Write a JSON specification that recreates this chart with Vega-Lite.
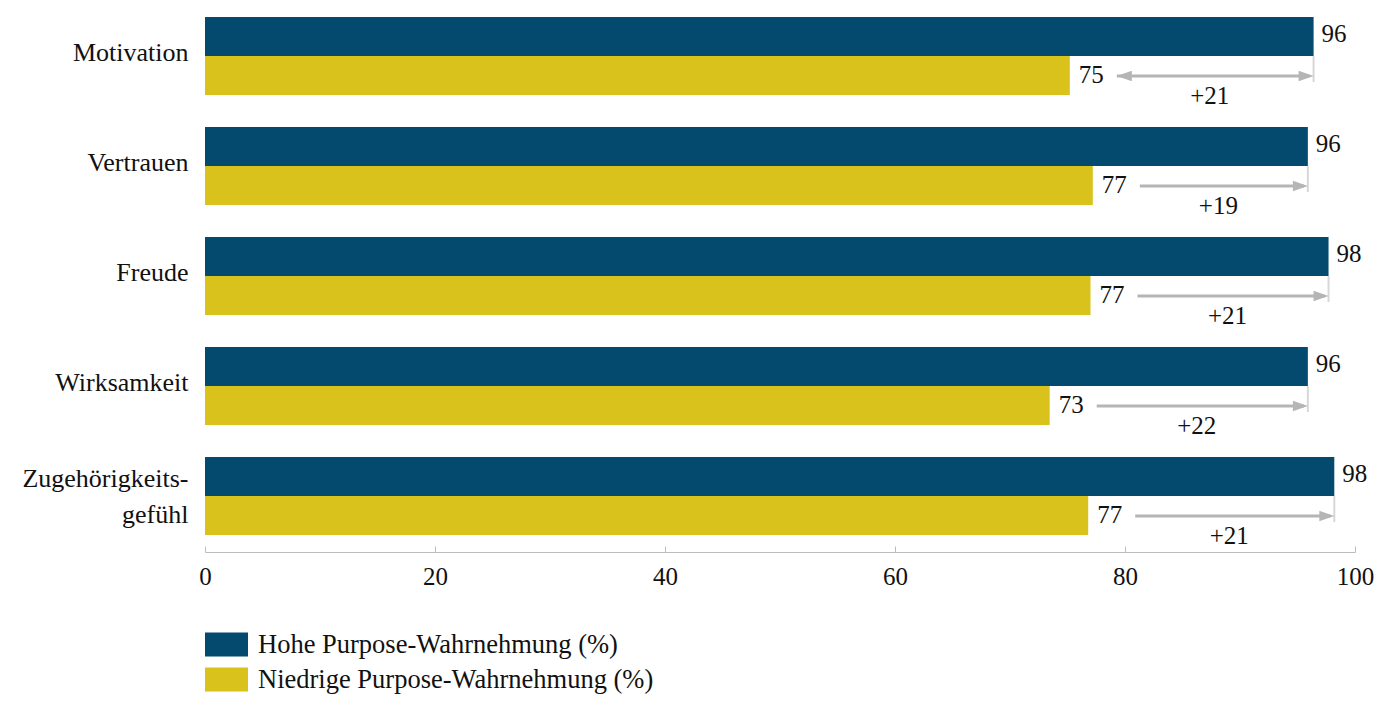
{
  "$schema": "https://vega.github.io/schema/vega-lite/v6.json",
  "width": 1150,
  "height": 546,
  "autosize": "none",
  "padding": {"left": 205, "top": 6, "right": 45, "bottom": 166},
  "config": {
    "font": "Liberation Serif",
    "view": {"stroke": null},
    "text": {"font": "Liberation Serif", "color": "#111111"}
  },
  "data": {
    "values": [
      {"category": "Motivation", "high": 96.4, "low": 75.2, "diff": 21},
      {"category": "Vertrauen", "high": 95.9, "low": 77.2, "diff": 19},
      {"category": "Freude", "high": 97.7, "low": 77.0, "diff": 21},
      {"category": "Wirksamkeit", "high": 95.9, "low": 73.45, "diff": 22},
      {"category": "Zugehörigkeitsgefühl", "high": 98.2, "low": 76.8, "diff": 21}
    ]
  },
  "encoding": {
    "y": {
      "field": "category",
      "type": "nominal",
      "sort": null,
      "scale": {"range": [11, 529], "paddingInner": 0.29, "paddingOuter": 0},
      "axis": {
        "title": null,
        "domain": false,
        "ticks": false,
        "labelPadding": 17,
        "labelFontSize": 26,
        "labelColor": "#111111",
        "labelFont": "Liberation Serif",
        "labelLineHeight": 36,
        "labelOffset": {"condition": {"test": "datum.value == 'Zugehörigkeitsgefühl'", "value": -17}, "value": -3},
        "labelExpr": "datum.label == 'Zugehörigkeitsgefühl' ? ['Zugehörigkeits-', 'gefühl'] : datum.label"
      }
    }
  },
  "layer": [
    {
      "transform": [{"fold": ["high", "low"], "as": ["series", "value"]}],
      "mark": {"type": "bar"},
      "encoding": {
        "x": {
          "field": "value",
          "type": "quantitative",
          "scale": {"domain": [0, 100], "nice": false},
          "axis": {
            "title": null,
            "values": [0, 20, 40, 60, 80, 100],
            "grid": false,
            "domainColor": "#bdbdbd",
            "tickColor": "#bdbdbd",
            "tickSize": -6,
            "labelPadding": 18,
            "labelFontSize": 25,
            "labelColor": "#111111",
            "labelFont": "Liberation Serif",
            "labelFlush": false
          }
        },
        "yOffset": {
          "field": "series",
          "type": "nominal",
          "sort": ["high", "low"],
          "scale": {"paddingInner": 0, "paddingOuter": 0}
        },
        "color": {
          "field": "series",
          "type": "nominal",
          "scale": {"domain": ["high", "low"], "range": ["#034a6e", "#d9c21b"]},
          "legend": {
            "title": null,
            "orient": "none",
            "legendX": 0,
            "legendY": 617,
            "padding": 0,
            "symbolType": "M-1,-0.558H1V0.558H-1Z",
            "symbolSize": 1849,
            "symbolStrokeWidth": 0,
            "symbolOpacity": 1,
            "labelFontSize": 26.5,
            "labelFont": "Liberation Serif",
            "labelColor": "#111111",
            "labelOffset": 10,
            "labelLimit": 600,
            "rowPadding": -7,
            "labelExpr": "datum.value == 'high' ? 'Hohe Purpose-Wahrnehmung (%)' : 'Niedrige Purpose-Wahrnehmung (%)'"
          }
        }
      }
    },
    {
      "mark": {"type": "text", "align": "left", "baseline": "middle", "dx": 8, "yOffset": -22, "fontSize": 25},
      "encoding": {
        "x": {"field": "high", "type": "quantitative"},
        "text": {"field": "high", "type": "quantitative", "format": ".0f"}
      }
    },
    {
      "mark": {"type": "text", "align": "left", "baseline": "middle", "dx": 9, "yOffset": 19, "fontSize": 25},
      "encoding": {
        "x": {"field": "low", "type": "quantitative"},
        "text": {"field": "low", "type": "quantitative", "format": ".0f"}
      }
    },
    {
      "mark": {"type": "tick", "orient": "vertical", "size": 26, "thickness": 2, "yOffset": 13, "color": "#c6c6c6"},
      "encoding": {
        "x": {"field": "high", "type": "quantitative"}
      }
    },
    {
      "mark": {"type": "rule", "xOffset": 47, "x2Offset": -4, "yOffset": 20, "strokeWidth": 3, "color": "#b5b5b5"},
      "encoding": {
        "x": {"field": "low", "type": "quantitative"},
        "x2": {"field": "high"}
      }
    },
    {
      "mark": {"type": "point", "shape": "M-1,-0.7L1,0L-1,0.7Z", "filled": true, "size": 225, "xOffset": -7.5, "yOffset": 20, "color": "#b5b5b5", "opacity": 1, "strokeWidth": 0},
      "encoding": {
        "x": {"field": "high", "type": "quantitative"}
      }
    },
    {
      "transform": [{"filter": "datum.category == 'Motivation'"}],
      "mark": {"type": "point", "shape": "M1,-0.7L-1,0L1,0.7Z", "filled": true, "size": 225, "xOffset": 54.5, "yOffset": 20, "color": "#b5b5b5", "opacity": 1, "strokeWidth": 0},
      "encoding": {
        "x": {"field": "low", "type": "quantitative"}
      }
    },
    {
      "transform": [{"fold": ["high", "low"], "as": ["series", "value"]}],
      "mark": {"type": "text", "align": "center", "baseline": "middle", "dx": 18, "yOffset": 40, "fontSize": 25},
      "encoding": {
        "x": {"aggregate": "mean", "field": "value", "type": "quantitative"},
        "text": {"field": "diff", "type": "quantitative", "format": "+.0f"}
      }
    }
  ]
}
